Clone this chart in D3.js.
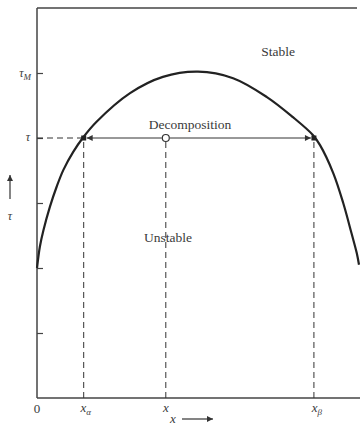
<!DOCTYPE html>
<html><head><meta charset="utf-8">
<script src="https://cdn.jsdelivr.net/npm/d3@7"></script>
<style>
body{margin:0;background:#fff;}
text{font-family:"Liberation Serif","DejaVu Serif",serif;fill:#3a3a3a;}
</style></head>
<body><div id="chart"></div>
<script>
// Curve (composition fraction, temperature τ in tick units)
const curveX   = [0, 0.009, 0.020, 0.040, 0.061, 0.082, 0.113, 0.142, 0.185, 0.289, 0.391, 0.50, 0.609, 0.714, 0.795, 0.856, 0.879, 0.920, 0.951, 0.977, 0.993, 1.0];
const curveTau = [2.0, 2.33, 2.58, 2.94, 3.25, 3.51, 3.79, 4.0, 4.25, 4.69, 4.94, 5.02, 4.92, 4.63, 4.32, 4.05, 3.89, 3.46, 3.0, 2.53, 2.23, 2.05];
const tauTicks = [1, 2, 3, 4, 5];
const tauLevel = 4, tauM = 5;
const xAlpha = 0.145, xMid = 0.40, xBeta = 0.860;

const W = 360, H = 425;
const svg = d3.select("#chart").append("svg").attr("width", W).attr("height", H);
const x = d3.scaleLinear().domain([0, 1]).range([37, 359]);
const y = d3.scaleLinear().domain([0, 6]).range([398, 8]);
const ink = "#333";

const defs = svg.append("defs");
defs.append("marker").attr("id","ah").attr("viewBox","0 0 10 10").attr("refX",10).attr("refY",5)
  .attr("markerWidth",9).attr("markerHeight",6).attr("markerUnits","userSpaceOnUse").attr("orient","auto")
  .append("path").attr("d","M0,0L10,5L0,10Z").attr("fill",ink);

// frame: top and bottom lines, left axis
svg.append("line").attr("x1",x(0)).attr("x2",357).attr("y1",y(6)).attr("y2",y(6)).attr("stroke","#444").attr("stroke-width",1.5);
svg.append("line").attr("x1",x(0)).attr("x2",360).attr("y1",y(0)).attr("y2",y(0)).attr("stroke","#444").attr("stroke-width",1.5);
const ax = svg.append("g").attr("transform",`translate(${x(0)},0)`)
  .call(d3.axisRight(y).tickValues(tauTicks).tickSize(6).tickFormat(""));
ax.select(".domain").attr("stroke","#444").attr("stroke-width",1.5).attr("d",`M0,${y(6)}V${y(0)}`);
ax.selectAll(".tick line").attr("stroke","#444").attr("stroke-width",1.2);

// dashed guides
const dash = "6,4";
svg.append("line").attr("x1",x(0)).attr("x2",x(xAlpha)).attr("y1",y(tauLevel)).attr("y2",y(tauLevel))
  .attr("stroke",ink).attr("stroke-width",1).attr("stroke-dasharray",dash);
[xAlpha, xMid, xBeta].forEach(v => {
  svg.append("line").attr("x1",x(v)).attr("x2",x(v)).attr("y1",y(tauLevel)+4).attr("y2",y(0))
    .attr("stroke",ink).attr("stroke-width",1).attr("stroke-dasharray",dash);
});

// curve
svg.append("path").datum(curveX.map((v,i)=>[v,curveTau[i]]))
  .attr("d", d3.line().x(d=>x(d[0])).y(d=>y(d[1])).curve(d3.curveCatmullRom.alpha(0.5)))
  .attr("fill","none").attr("stroke","#222").attr("stroke-width",2.2);

// arrows from x to xα and xβ
svg.append("line").attr("x1",x(xMid)-4).attr("x2",x(xAlpha)+3).attr("y1",y(tauLevel)).attr("y2",y(tauLevel))
  .attr("stroke",ink).attr("stroke-width",1).attr("marker-end","url(#ah)");
svg.append("line").attr("x1",x(xMid)+4).attr("x2",x(xBeta)-3).attr("y1",y(tauLevel)).attr("y2",y(tauLevel))
  .attr("stroke",ink).attr("stroke-width",1).attr("marker-end","url(#ah)");
[xAlpha, xBeta].forEach(v => {
  svg.append("rect").attr("x",x(v)-2.5).attr("y",y(tauLevel)-2.5).attr("width",5).attr("height",5).attr("fill","#222");
});
svg.append("circle").attr("cx",x(xMid)).attr("cy",y(tauLevel)).attr("r",3.5).attr("fill","#fff").attr("stroke",ink).attr("stroke-width",1.2);

// region labels
svg.append("text").attr("x",278).attr("y",56).attr("text-anchor","middle").attr("font-size",13.5).text("Stable");
svg.append("text").attr("x",190).attr("y",129).attr("text-anchor","middle").attr("font-size",13.5).text("Decomposition");
svg.append("text").attr("x",168).attr("y",242).attr("text-anchor","middle").attr("font-size",13.5).text("Unstable");

// left labels
const tm = svg.append("text").attr("x",31).attr("y",y(tauM)+4).attr("text-anchor","end").attr("font-size",12).attr("font-style","italic");
tm.append("tspan").text("τ");
tm.append("tspan").attr("font-size",9).attr("dy",3).text("M");
svg.append("text").attr("x",30).attr("y",y(tauLevel)+3).attr("text-anchor","end").attr("font-size",12).attr("font-style","italic").text("τ");
svg.append("line").attr("x1",10).attr("x2",10).attr("y1",199).attr("y2",175).attr("stroke",ink).attr("stroke-width",1.2).attr("marker-end","url(#ah)");
svg.append("text").attr("x",10).attr("y",220).attr("text-anchor","middle").attr("font-size",12).attr("font-style","italic").text("τ");

// bottom labels
svg.append("text").attr("x",x(0)).attr("y",413).attr("text-anchor","middle").attr("font-size",13).text("0");
const xa = svg.append("text").attr("x",x(xAlpha)+2).attr("y",412).attr("text-anchor","middle").attr("font-size",13).attr("font-style","italic");
xa.append("tspan").text("x");
xa.append("tspan").attr("font-size",9).attr("dy",3).text("α");
svg.append("text").attr("x",x(xMid)).attr("y",412).attr("text-anchor","middle").attr("font-size",13).attr("font-style","italic").text("x");
const xb = svg.append("text").attr("x",x(xBeta)+3).attr("y",412).attr("text-anchor","middle").attr("font-size",13).attr("font-style","italic");
xb.append("tspan").text("x");
xb.append("tspan").attr("font-size",9).attr("dy",3).text("β");
svg.append("text").attr("x",173).attr("y",423).attr("text-anchor","middle").attr("font-size",13).attr("font-style","italic").text("x");
svg.append("line").attr("x1",182).attr("x2",213).attr("y1",419).attr("y2",419).attr("stroke",ink).attr("stroke-width",1.2).attr("marker-end","url(#ah)");
</script></body></html>
